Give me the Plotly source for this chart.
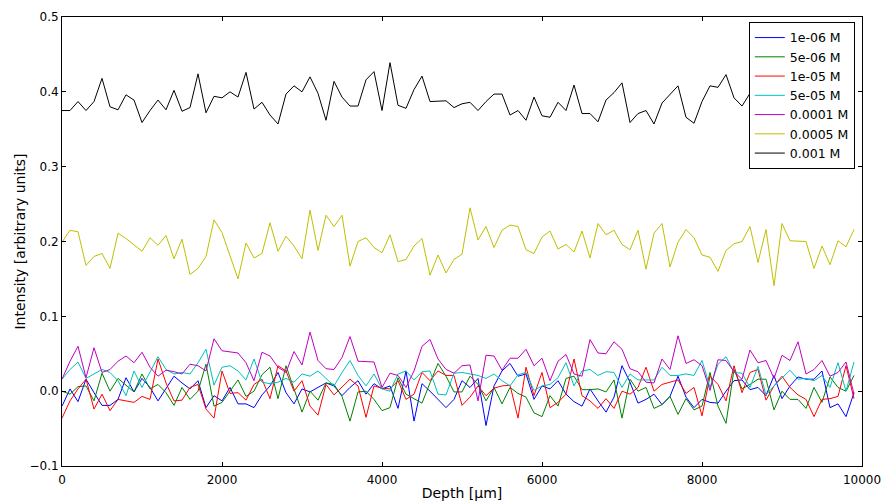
import plotly.graph_objects as go

# Depth positions in micrometres (one sample every 100 µm)
depth = list(range(0, 10000, 100))

labels = ["1e-06 M", "5e-06 M", "1e-05 M", "5e-05 M", "0.0001 M", "0.0005 M", "0.001 M"]
colors = ["#0000ff", "#008000", "#ff0000", "#00bfbf", "#bf00bf", "#bfbf00", "#000000"]

c_1e6 = [
    -0.020, 0.003, -0.014, 0.016, -0.002, -0.019, -0.019, -0.011, 0.018, -0.001, 0.017, 0.005, -0.013, 0.003, 0.020, 0.011, 0.003, 0.014, -0.022, -0.006, -0.013, 0.005, -0.017, -0.017, -0.022,
    -0.005, 0.007, 0.025, -0.002, -0.017, 0.003, -0.001, 0.005, 0.011, 0.007, -0.006, 0.005, 0.014, -0.004, 0.010, 0.003, 0.007, -0.023, 0.027, -0.040, 0.010, 0.000, -0.011, -0.022, -0.011,
    0.014, 0.005, 0.017, -0.046, 0.007, 0.027, 0.037, 0.020, 0.023, -0.011, 0.007, 0.003, 0.014, -0.004, -0.014, -0.020, 0.003, -0.013, -0.028, -0.008, 0.034, 0.012, -0.016, -0.011, -0.004,
    -0.018, -0.007, 0.020, -0.008, -0.022, -0.011, -0.015, -0.016, 0.000, 0.014, 0.015, 0.002, 0.005, -0.006, 0.021, -0.010, 0.007, 0.019, 0.016, 0.016, 0.027, -0.022, -0.017, -0.034, -0.002,
]
c_5e6 = [
    0.000, -0.004, 0.006, 0.007, -0.013, 0.024, 0.000, 0.017, 0.008, -0.001, 0.023, 0.003, 0.009, -0.002, -0.019, 0.005, -0.011, 0.000, 0.036, -0.020, -0.015, 0.000, 0.015, -0.007, 0.000,
    0.022, 0.032, -0.010, 0.034, 0.003, -0.028, 0.000, -0.012, 0.011, 0.009, -0.007, -0.040, -0.001, 0.000, -0.011, -0.026, -0.022, 0.018, -0.004, -0.010, -0.016, 0.011, 0.037, 0.020, -0.001,
    -0.001, 0.020, 0.009, -0.013, 0.005, -0.017, 0.005, -0.003, -0.008, -0.029, -0.034, -0.006, -0.020, 0.017, 0.020, 0.002, 0.002, 0.003, -0.001, 0.015, -0.036, 0.016, 0.000, 0.005, -0.023,
    -0.018, -0.007, -0.031, -0.010, -0.025, -0.020, 0.025, -0.020, -0.043, 0.029, 0.003, 0.009, 0.016, 0.016, -0.025, 0.000, -0.011, -0.011, -0.023, 0.005, -0.015, 0.019, 0.005, 0.000, 0.021,
]
c_1e5 = [
    -0.036, -0.013, 0.003, 0.016, -0.024, -0.004, -0.026, -0.011, -0.013, -0.015, -0.007, -0.011, 0.043, 0.011, -0.013, -0.012, 0.005, 0.009, -0.024, -0.036, 0.027, -0.003, -0.002, -0.012, 0.009,
    0.016, -0.010, 0.034, 0.027, 0.000, 0.014, -0.020, -0.032, 0.009, -0.005, 0.005, 0.016, 0.007, -0.035, 0.007, 0.004, 0.003, 0.014, -0.011, -0.004, 0.025, 0.014, 0.027, 0.021, 0.021,
    -0.019, -0.008, 0.007, -0.006, 0.004, 0.007, 0.008, -0.036, 0.032, -0.006, 0.025, -0.022, -0.015, -0.004, 0.043, -0.006, -0.013, -0.023, -0.010, -0.023, 0.000, -0.004, 0.005, 0.032, 0.000,
    0.009, 0.012, 0.015, -0.003, 0.005, -0.033, 0.020, 0.009, -0.013, 0.034, -0.002, 0.025, 0.029, -0.012, 0.007, 0.020, 0.005, -0.005, -0.011, -0.034, -0.011, -0.010, -0.007, 0.034, -0.010,
]
c_5e5 = [
    0.016, 0.029, 0.039, 0.017, 0.023, 0.029, 0.025, 0.014, -0.006, 0.027, 0.005, 0.025, 0.046, 0.029, 0.023, 0.025, 0.023, 0.038, 0.056, 0.008, 0.032, 0.034, 0.027, 0.015, 0.043,
    0.012, 0.010, 0.012, 0.017, 0.012, 0.023, 0.020, 0.027, 0.017, 0.007, 0.025, 0.041, 0.021, 0.007, 0.023, 0.003, 0.000, 0.023, 0.027, 0.015, 0.026, 0.027, -0.004, -0.005, 0.024,
    0.025, 0.023, 0.021, 0.017, 0.023, 0.014, 0.007, 0.022, 0.025, 0.001, 0.007, 0.009, 0.018, 0.038, 0.007, 0.027, 0.029, 0.021, 0.026, 0.025, 0.005, 0.023, 0.015, 0.015, 0.015,
    0.032, 0.021, 0.021, 0.023, 0.021, 0.041, 0.005, 0.036, 0.046, 0.025, 0.024, 0.005, 0.033, -0.005, 0.007, 0.017, 0.028, 0.016, 0.017, 0.014, 0.021, 0.005, 0.038, 0.000, 0.039,
]
c_1e4 = [
    0.016, 0.040, 0.060, 0.018, 0.058, 0.025, 0.029, 0.040, 0.047, 0.038, 0.052, 0.032, 0.020, 0.028, 0.026, 0.023, 0.036, 0.034, 0.027, 0.070, 0.054, 0.052, 0.051, 0.038, 0.014,
    0.052, 0.047, 0.032, 0.025, 0.053, 0.035, 0.079, 0.041, 0.030, 0.029, 0.045, 0.073, 0.040, 0.039, 0.039, 0.005, 0.024, 0.021, 0.005, 0.027, 0.060, 0.069, 0.043, 0.029, 0.024,
    0.034, 0.035, -0.013, 0.048, 0.047, 0.028, 0.044, 0.044, 0.056, 0.034, 0.044, 0.014, 0.040, 0.049, 0.023, 0.020, 0.069, 0.051, 0.050, 0.066, 0.056, 0.030, 0.026, 0.012, 0.011,
    0.043, 0.029, 0.074, 0.037, 0.042, 0.034, 0.001, 0.042, 0.041, 0.026, 0.016, 0.055, 0.038, 0.041, 0.017, 0.048, 0.041, 0.066, 0.023, 0.029, 0.041, 0.020, 0.025, 0.039, -0.004,
]
c_5e4 = [
    0.199, 0.215, 0.213, 0.168, 0.180, 0.184, 0.164, 0.211, 0.204, 0.196, 0.187, 0.205, 0.195, 0.208, 0.177, 0.203, 0.156, 0.164, 0.180, 0.229, 0.212, 0.181, 0.150, 0.198, 0.178,
    0.184, 0.225, 0.187, 0.207, 0.194, 0.177, 0.242, 0.188, 0.235, 0.220, 0.235, 0.167, 0.200, 0.205, 0.192, 0.185, 0.209, 0.173, 0.176, 0.194, 0.204, 0.155, 0.182, 0.158, 0.176,
    0.183, 0.245, 0.202, 0.220, 0.192, 0.215, 0.222, 0.220, 0.189, 0.184, 0.206, 0.214, 0.190, 0.196, 0.186, 0.214, 0.178, 0.224, 0.209, 0.215, 0.196, 0.189, 0.215, 0.163, 0.211,
    0.224, 0.166, 0.199, 0.216, 0.205, 0.182, 0.179, 0.160, 0.188, 0.197, 0.200, 0.220, 0.172, 0.216, 0.141, 0.224, 0.201, 0.201, 0.200, 0.164, 0.194, 0.169, 0.201, 0.193, 0.216,
]
c_1e3 = [
    0.375, 0.375, 0.387, 0.375, 0.387, 0.418, 0.380, 0.376, 0.396, 0.389, 0.359, 0.375, 0.389, 0.376, 0.402, 0.374, 0.379, 0.424, 0.372, 0.394, 0.392, 0.400, 0.393, 0.426, 0.377,
    0.386, 0.369, 0.357, 0.397, 0.408, 0.400, 0.420, 0.398, 0.362, 0.414, 0.393, 0.381, 0.381, 0.416, 0.427, 0.375, 0.439, 0.382, 0.378, 0.403, 0.421, 0.387, 0.387, 0.388, 0.379,
    0.384, 0.386, 0.375, 0.387, 0.397, 0.397, 0.369, 0.375, 0.362, 0.393, 0.368, 0.366, 0.386, 0.375, 0.409, 0.371, 0.371, 0.360, 0.389, 0.399, 0.412, 0.359, 0.371, 0.375, 0.357,
    0.385, 0.397, 0.408, 0.366, 0.358, 0.387, 0.408, 0.406, 0.423, 0.392, 0.381, 0.398, 0.376, 0.402, 0.389, 0.371, 0.395, 0.384, 0.407, 0.379, 0.390, 0.368, 0.396, 0.385, 0.377,
]

series = [c_1e6, c_5e6, c_1e5, c_5e5, c_1e4, c_5e4, c_1e3]

x_ticks = [0, 2000, 4000, 6000, 8000, 10000]
y_ticks = [-0.1, 0.0, 0.1, 0.2, 0.3, 0.4, 0.5]
y_tick_text = ["\u22120.1", "0.0", "0.1", "0.2", "0.3", "0.4", "0.5"]

fig = go.Figure()
for name, color, vals in zip(labels, colors, series):
    fig.add_trace(go.Scatter(
        x=depth, y=vals, mode="lines", name=name,
        line=dict(color=color, width=1),
    ))

axis_common = dict(
    showline=True, linecolor="black", linewidth=1, mirror="ticks",
    ticks="inside", ticklen=4, tickcolor="black", tickwidth=1,
    showgrid=False, zeroline=False, automargin=False,
    tickfont=dict(family="DejaVu Sans", size=12, color="black"),
)

fig.update_layout(
    width=885, height=504,
    margin=dict(l=62, r=23, t=17, b=38),
    paper_bgcolor="white", plot_bgcolor="white",
    font=dict(family="DejaVu Sans", size=12, color="black"),
    xaxis=dict(
        range=[0, 10000], tickvals=x_ticks, ticktext=[str(v) for v in x_ticks],
        ticklabelstandoff=3,
        title=dict(text="Depth [\u00b5m]", font=dict(size=14), standoff=1),
        **axis_common,
    ),
    yaxis=dict(
        range=[-0.1, 0.5], tickvals=y_ticks, ticktext=y_tick_text,
        title=dict(text="Intensity [arbitrary units]", font=dict(size=14), standoff=0),
        **axis_common,
    ),
    legend=dict(
        x=0.991, y=0.989, xanchor="right", yanchor="top",
        bgcolor="white", bordercolor="black", borderwidth=1,
        font=dict(family="DejaVu Sans", size=12.5, color="black"),
        tracegroupgap=0, itemwidth=30,
    ),
    showlegend=True,
)

fig.write_html("out.html")
